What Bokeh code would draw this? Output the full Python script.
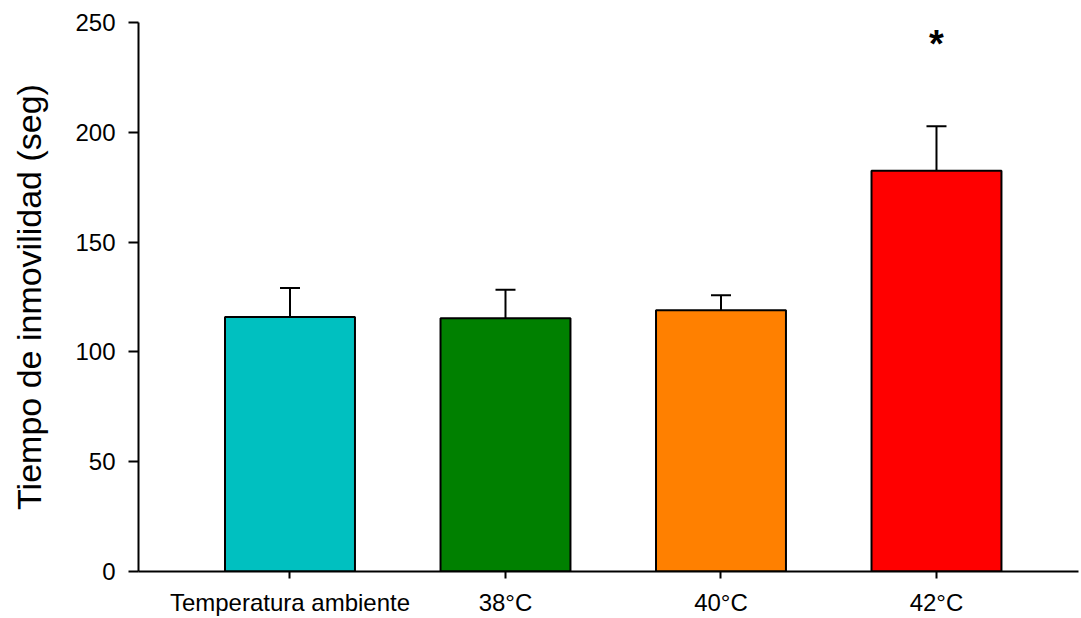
from bokeh.plotting import figure
from bokeh.models import ColumnDataSource, FixedTicker, Whisker, TeeHead, Range1d
from bokeh.core.properties import value
from bokeh.embed import file_html
from bokeh.resources import INLINE

# Immobility time per temperature group (mean and SEM, seconds)
groups = ["Temperatura ambiente", "38°C", "40°C", "42°C"]
means = [115.9, 115.3, 119.0, 182.5]
sems = [13.2, 13.0, 6.8, 20.2]
colors = ["#00C0C0", "#008000", "#FF8000", "#FF0000"]
y_ticks = [0, 50, 100, 150, 200, 250]

# significance marker
star_group = 4
star_y = 240
star_text = "*"

positions = list(range(1, len(groups) + 1))
upper = [m + s for m, s in zip(means, sems)]

src = ColumnDataSource(dict(x=positions, top=means, upper=upper, color=colors))

p = figure(
    width=1081, height=618,
    x_range=Range1d(0.297, 4.659), y_range=Range1d(0, 250),
    output_backend="svg", toolbar_location=None,
    min_border_left=138, min_border_right=3,
    min_border_top=22, min_border_bottom=45,
)
p.outline_line_color = None
p.xgrid.visible = False
p.ygrid.visible = False
p.background_fill_color = "white"
p.border_fill_color = "white"

p.vbar(x="x", top="top", bottom=0, width=0.603, source=src,
       fill_color="color", line_color="black", line_width=2)

whisker = Whisker(base="x", upper="upper", lower="top", source=src,
                  line_color="black", line_width=2,
                  upper_head=TeeHead(size=20, line_color="black", line_width=2),
                  lower_head=None)
p.add_layout(whisker)

p.text(x=[star_group], y=[star_y], text=[star_text],
       text_font=value("Liberation Sans"), text_font_size="38px",
       text_font_style="bold", text_align="center",
       text_baseline="alphabetic", text_color="black")

# x axis
xa = p.xaxis[0]
xa.ticker = FixedTicker(ticks=positions)
xa.major_label_overrides = {i: g for i, g in zip(positions, groups)}
xa.major_tick_in = 0
xa.major_tick_out = 7
xa.minor_tick_line_color = None
xa.axis_line_width = 2
xa.major_tick_line_width = 2
xa.major_label_text_font = "Liberation Sans"
xa.major_label_text_font_size = "24px"
xa.major_label_text_color = "black"
xa.major_label_standoff = 10

# y axis
ya = p.yaxis[0]
ya.ticker = FixedTicker(ticks=y_ticks)
ya.major_tick_in = 0
ya.major_tick_out = 10
ya.minor_tick_line_color = None
ya.axis_line_width = 2
ya.major_tick_line_width = 2
ya.major_label_text_font = "Liberation Sans"
ya.major_label_text_font_size = "24px"
ya.major_label_text_color = "black"
ya.major_label_standoff = 13
ya.axis_label = "Tiempo de inmovilidad (seg)"
ya.axis_label_text_font = "Liberation Sans"
ya.axis_label_text_font_size = "34px"
ya.axis_label_text_font_style = "normal"
ya.axis_label_text_color = "black"
ya.axis_label_standoff = 24

open("out.html", "w").write(file_html(p, INLINE))
